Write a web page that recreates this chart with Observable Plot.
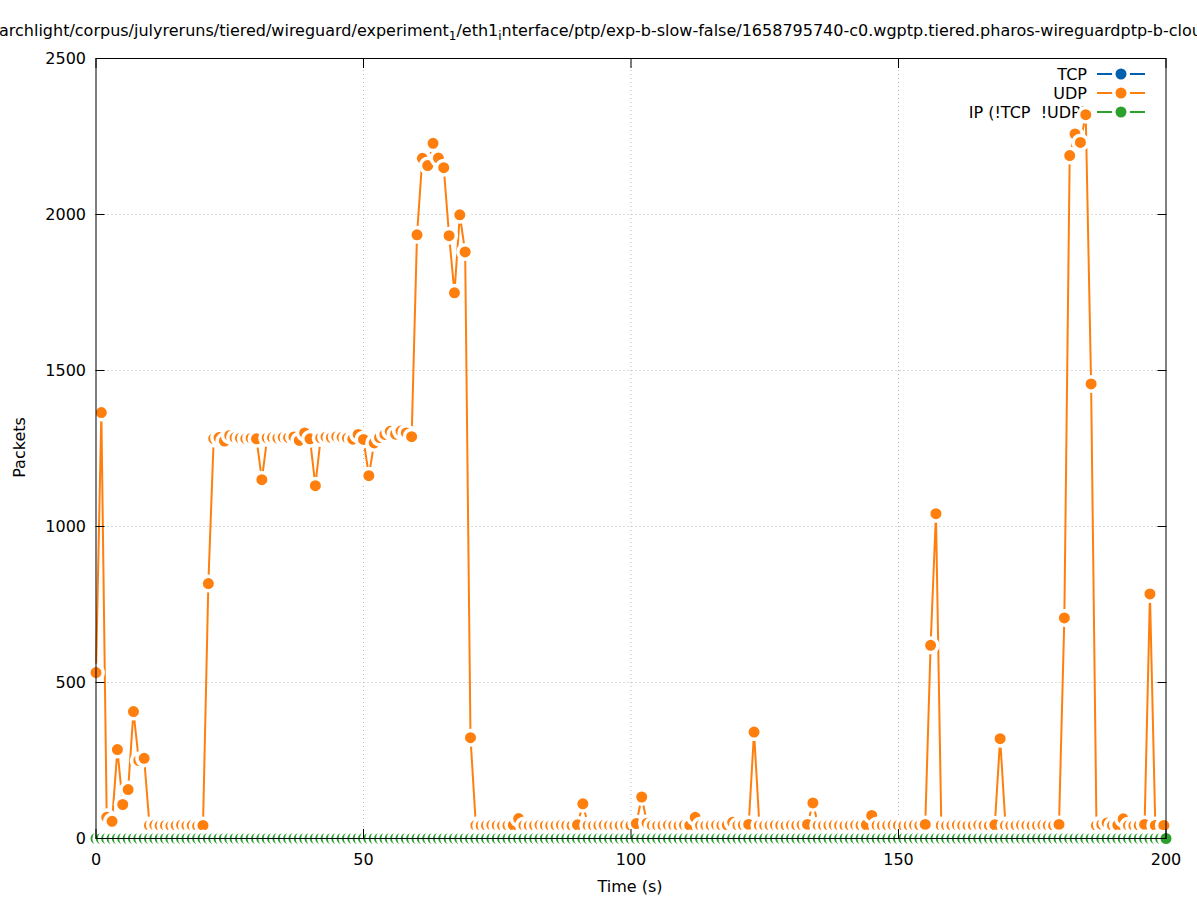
<!DOCTYPE html>
<html>
<head>
<meta charset="utf-8">
<script src="https://cdn.jsdelivr.net/npm/d3@7"></script>
<script src="https://cdn.jsdelivr.net/npm/@observablehq/plot@0.6"></script>
<style>
  body { margin: 0; background: #fff; }
  #wrap { position: relative; width: 1197px; height: 900px; overflow: hidden; font-family: "DejaVu Sans", sans-serif; color: #000; }
  #title { position: absolute; top: 21px; left: -1px; white-space: nowrap; font-size: 16px; line-height: 19px; }
  #title sub { font-size: 12px; vertical-align: -4px; line-height: 0; }
  #xlabel { position: absolute; left: 530px; width: 200px; text-align: center; top: 877px; font-size: 16px; line-height: 19px; }
  #ylabel { position: absolute; left: -81px; top: 438px; width: 200px; text-align: center; font-size: 16px; line-height: 19px; transform: rotate(-90deg); }
  #chart { position: absolute; left: 0; top: 0; }
</style>
</head>
<body>
<div id="wrap">
  <div id="chart"></div>
  <div id="title">archlight/corpus/julyreruns/tiered/wireguard/experiment<sub>1</sub>/eth1<sub>i</sub>nterface/ptp/exp-b-slow-false/1658795740-c0.wgptp.tiered.pharos-wireguardptp-b-cloud</div>
  <div id="xlabel">Time (s)</div>
  <div id="ylabel">Packets</div>
</div>
<script>
// ---- data ----
const seriesNames = ["TCP", "UDP", "IP (!TCP \u00a0!UDP)"];
const seriesColors = ["#0060ad", "#ff7f0e", "#2ca02c"];
const xTicks = [0, 50, 100, 150, 200];
const yTicks = [0, 500, 1000, 1500, 2000, 2500];

const udpSeconds = [
  0,1,2,3,4,5,6,7,8,9,10,11,12,13,14,15,16,17,18,19,
  20,21,22,23,24,25,26,27,28,29,30,31,32,33,34,35,36,37,38,39,
  40,41,42,43,44,45,46,47,48,49,50,51,52,53,54,55,56,57,58,59,
  60,61,62,63,64,65,66,67,68,69,70,71,72,73,74,75,76,77,78,79,
  80,81,82,83,84,85,86,87,88,89,90,91,92,93,94,95,96,97,98,99,
  100,101,102,103,104,105,106,107,108,109,110,111,112,113,114,115,116,117,118,119,
  120,121,122,123,124,125,126,127,128,129,130,131,132,133,134,135,136,137,138,139,
  140,141,142,143,144,145,146,147,148,149,150,151,152,153,154,155,156,157,158,159,
  160,161,162,163,164,165,166,167,168,169,170,171,172,173,174,175,176,177,178,179,
  180,181,182,183,184,185,186,187,188,189,190,191,192,193,194,195,196,197,198,199.6
];
const udpPackets = [
  532,1365,68,55,285,109,157,407,250,257,42,43,41,42,40,42,43,41,42,40,
  42,817,1282,1285,1274,1292,1285,1283,1282,1283,1281,1150,1284,1285,1283,1286,1285,1287,1276,1300,
  1281,1131,1284,1287,1285,1288,1286,1283,1280,1295,1279,1163,1268,1285,1295,1305,1296,1306,1300,1288,
  1935,2180,2157,2228,2181,2150,1932,1749,1999,1880,323,42,41,42,43,42,41,42,43,64,
  42,41,42,43,42,41,42,43,42,41,44,111,42,41,42,43,42,41,42,43,
  42,48,133,49,42,41,42,43,42,41,43,42,68,42,41,42,43,42,43,52,
  42,43,45,341,42,41,42,43,42,41,43,42,44,45,114,42,41,42,43,42,
  41,42,43,42,44,74,42,41,42,43,42,41,42,43,42,45,619,1041,42,41,
  42,43,42,41,42,43,42,41,44,320,42,41,42,43,42,41,42,43,42,41,
  45,707,2189,2258,2231,2320,1457,42,45,50,42,43,63,42,41,42,45,784,42,42
];
// TCP and IP (!TCP !UDP) sit on zero for the whole run
const zeroSeconds = [
  0,1,2,3,4,5,6,7,8,9,10,11,12,13,14,15,16,17,18,19,
  20,21,22,23,24,25,26,27,28,29,30,31,32,33,34,35,36,37,38,39,
  40,41,42,43,44,45,46,47,48,49,50,51,52,53,54,55,56,57,58,59,
  60,61,62,63,64,65,66,67,68,69,70,71,72,73,74,75,76,77,78,79,
  80,81,82,83,84,85,86,87,88,89,90,91,92,93,94,95,96,97,98,99,
  100,101,102,103,104,105,106,107,108,109,110,111,112,113,114,115,116,117,118,119,
  120,121,122,123,124,125,126,127,128,129,130,131,132,133,134,135,136,137,138,139,
  140,141,142,143,144,145,146,147,148,149,150,151,152,153,154,155,156,157,158,159,
  160,161,162,163,164,165,166,167,168,169,170,171,172,173,174,175,176,177,178,179,
  180,181,182,183,184,185,186,187,188,189,190,191,192,193,194,195,196,197,198,199,200
];
const tcpPackets = zeroSeconds.map(() => 0);
const ipPackets = zeroSeconds.map(() => 0);

// ---- build tables ----
const tcp = zeroSeconds.map((t, i) => ({t, v: tcpPackets[i]}));
const udp = udpSeconds.map((t, i) => ({t, v: udpPackets[i]}));
const ip = zeroSeconds.map((t, i) => ({t, v: ipPackets[i]}));

const dotR = 7.25, haloW = 3.5, lineW = 2;

function seriesMarks(data, color) {
  return [
    Plot.line(data, {x: "t", y: "v", stroke: color, strokeWidth: lineW, curve: "linear"}),
    Plot.dot(data, {x: "t", y: "v", fill: color, stroke: "white", strokeWidth: haloW, r: dotR})
  ];
}

function legendMark(index, scales, values, dims) {
  const g = d3.create("svg:g");
  const right = dims.width - dims.marginRight;
  seriesNames.forEach((name, i) => {
    const y = dims.marginTop + 16 + i * 19;
    g.append("text")
      .attr("x", right - 78.5).attr("y", y).attr("dy", "0.35em")
      .attr("text-anchor", "end").attr("fill", "black")
      .attr("font-size", 16)
      .text(name);
    g.append("line")
      .attr("x1", right - 68.5).attr("x2", right - 20.5)
      .attr("y1", y).attr("y2", y)
      .attr("stroke", seriesColors[i]).attr("stroke-width", lineW);
    g.append("circle")
      .attr("cx", right - 44.5).attr("cy", y).attr("r", dotR)
      .attr("fill", seriesColors[i]).attr("stroke", "white").attr("stroke-width", haloW);
  });
  return g.node();
}

const chart = Plot.plot({
  width: 1197,
  height: 900,
  marginLeft: 95.5,
  marginRight: 31.5,
  marginTop: 58,
  marginBottom: 62,
  style: {fontFamily: "DejaVu Sans", fontSize: "16px", background: "transparent", overflow: "visible", color: "black"},
  x: {domain: [0, 200]},
  y: {domain: [0, 2500]},
  marks: [
    Plot.gridX(xTicks.slice(1, -1), {stroke: "#b8b8b8", strokeOpacity: 1, strokeDasharray: "1,3"}),
    Plot.gridY(yTicks.slice(1, -1), {stroke: "#b8b8b8", strokeOpacity: 1, strokeDasharray: "1,3"}),
    legendMark,
    ...seriesMarks(tcp, seriesColors[0]),
    ...seriesMarks(udp, seriesColors[1]),
    ...seriesMarks(ip, seriesColors[2]),
    Plot.frame({stroke: "black", strokeWidth: 1}),
    Plot.axisX(xTicks, {anchor: "bottom", tickSize: -9, tickPadding: 24, tickFormat: d3.format("d"), label: null}),
    Plot.axisX(xTicks, {anchor: "top", tickSize: -9, tickFormat: () => "", label: null}),
    Plot.axisY(yTicks, {anchor: "left", tickSize: -9, tickPadding: 19, tickFormat: d3.format("d"), label: null}),
    Plot.axisY(yTicks, {anchor: "right", tickSize: -9, tickFormat: () => "", label: null})
  ]
});
document.getElementById("chart").appendChild(chart);
</script>
</body>
</html>
